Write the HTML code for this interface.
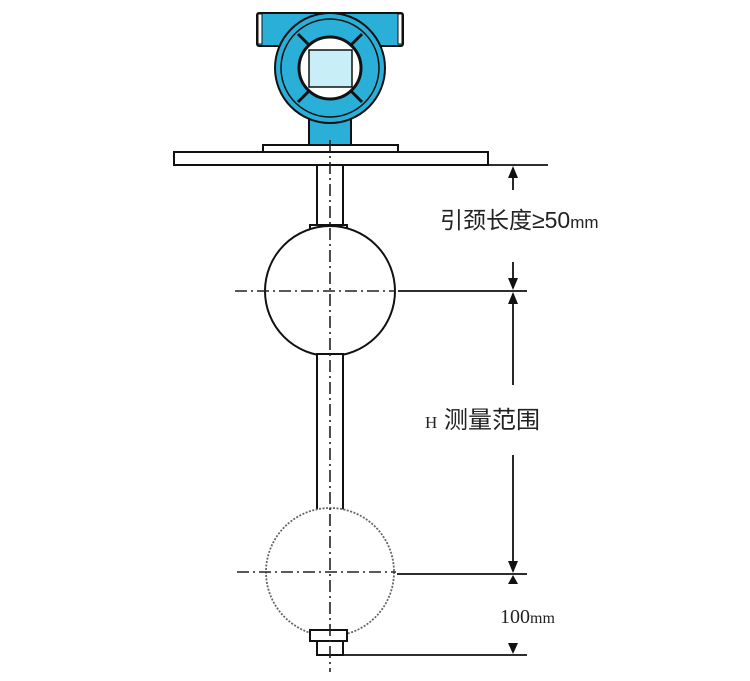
<!DOCTYPE html>
<html><head><meta charset="utf-8"><style>body{margin:0;background:#fff}svg{display:block}</style></head><body>
<svg width="750" height="681" viewBox="0 0 750 681" xmlns="http://www.w3.org/2000/svg">
<g stroke="#111" stroke-width="2" fill="#2ab0d8">
<rect x="257" y="13" width="146" height="33" rx="2"/>
<rect x="309" y="100" width="42" height="46"/>
<circle cx="330" cy="68" r="55"/>
<circle cx="330" cy="68" r="49" fill="none" stroke-width="1.5"/>
<circle cx="330" cy="68" r="31" fill="#fff" stroke-width="3"/>
<rect x="309" y="50" width="43" height="37" fill="#c8eef8" stroke-width="1.5"/>
<line x1="298" y1="34" x2="310" y2="46" stroke-width="3"/><line x1="362" y1="34" x2="350" y2="46" stroke-width="3"/>
<line x1="298" y1="102" x2="310" y2="90" stroke-width="3"/><line x1="362" y1="102" x2="350" y2="90" stroke-width="3"/>
</g>
<g stroke="#111" stroke-width="2" fill="#fff">
<rect x="258" y="14" width="4" height="30" fill="#fff" stroke-width="1"/>
<rect x="398" y="14" width="4" height="30" fill="#fff" stroke-width="1"/>
<rect x="263" y="145" width="135" height="8"/>
<rect x="174" y="152" width="314" height="13"/>
<rect x="317" y="165" width="26" height="62"/>
<rect x="310" y="225" width="37" height="11"/>
<circle cx="330" cy="291" r="65"/>
<rect x="317" y="354" width="26" height="162"/>
<circle cx="330" cy="572" r="64" stroke="#666" stroke-width="1.8" stroke-dasharray="2 1.5"/>
<rect x="310" y="630" width="37" height="11"/>
<rect x="317" y="641" width="26" height="14"/>
</g>
<g stroke="#222" stroke-width="1.6" fill="none" stroke-dasharray="12 4 2 4">
<line x1="330" y1="140" x2="330" y2="672"/>
<line x1="235" y1="291" x2="396" y2="291"/>
<line x1="237" y1="572" x2="396" y2="572"/>
</g>
<g stroke="#111" stroke-width="1.8" fill="none">
<line x1="488" y1="165" x2="548" y2="165"/>
<line x1="398" y1="291" x2="527" y2="291"/>
<line x1="397" y1="574" x2="527" y2="574"/>
<line x1="343" y1="655" x2="527" y2="655"/>
<line x1="513" y1="168" x2="513" y2="190"/>
<line x1="513" y1="262" x2="513" y2="288"/>
<line x1="513" y1="294" x2="513" y2="385"/>
<line x1="513" y1="455" x2="513" y2="571"/>
</g>
<g fill="#111">
<polygon points="513,166 508,178 518,178"/>
<polygon points="513,290 508,278 518,278"/>
<polygon points="513,292 508,304 518,304"/>
<polygon points="513,573 508,561 518,561"/>
<polygon points="513,575 508,584 518,584"/>
<polygon points="513,654 508,643 518,643"/>
</g>
<g font-family="Liberation Sans, Noto Sans CJK SC, sans-serif" fill="#222">
<text x="440" y="228" font-size="23">引颈长度≥50<tspan font-size="17">mm</tspan></text>
<text x="425" y="428" font-size="24"><tspan font-family="Liberation Serif, serif" font-size="17">H</tspan> 测量范围</text>
<text x="500" y="623" font-size="20" font-family="Liberation Serif, serif">100<tspan font-size="16">mm</tspan></text>
</g>
</svg>
</body></html>
